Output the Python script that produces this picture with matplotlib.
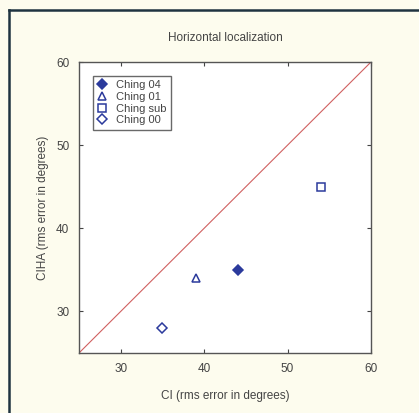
import matplotlib
matplotlib.use('Agg')
import matplotlib.pyplot as plt
from matplotlib.lines import Line2D

plt.rcParams['font.family'] = ['Liberation Sans', 'DejaVu Sans']

# data
labels = ['Ching 04', 'Ching 01', 'Ching sub', 'Ching 00']
ci = [44, 39, 54, 35]
ciha = [35, 34, 45, 28]
markers = ['D', '^', 's', 'D']
filled = [True, False, False, False]
diag = [25, 60]
ticks = [30, 40, 50, 60]

blue = '#2b3a9c'
bg = '#fdfcee'
txt = '#444444'

fig = plt.figure(figsize=(4.19, 4.13), dpi=100, facecolor=bg)
ax = fig.add_axes([79 / 419, 1 - 353 / 413, 292 / 419, 291 / 413])
ax.set_facecolor('white')

ax.plot(diag, diag, color='#d06060', lw=0.8, zorder=1)
for x, y, lab, m, f in zip(ci, ciha, labels, markers, filled):
    ax.plot([x], [y], linestyle='none', marker=m, ms=6 if m != 'D' else 5,
            mfc=blue if f else 'white', mec=blue, mew=1.1, label=lab, zorder=3)

ax.set_xlim(25, 60)
ax.set_ylim(25, 60)
ax.set_xticks(ticks)
ax.set_yticks(ticks)
ax.tick_params(direction='in', top=True, right=True, length=3, width=0.8,
               labelsize=8.5, colors=txt, pad=7)
for s in ax.spines.values():
    s.set_color('#555555')
    s.set_linewidth(1.0)

ax.set_title('Horizontal localization', fontsize=8.5, color=txt, pad=15)
ax.set_xlabel('CI (rms error in degrees)', fontsize=8.5, color=txt, labelpad=11)
ax.set_ylabel('CIHA (rms error in degrees)', fontsize=8.5, color=txt, labelpad=5)

leg = ax.legend(loc='upper left', bbox_to_anchor=(0.04, 0.96), fontsize=8,
                frameon=True, fancybox=False, edgecolor='#444444',
                handlelength=0.9, handletextpad=0.8, labelspacing=0.15,
                borderpad=0.4, borderaxespad=0.2, markerscale=0.95)
leg.get_frame().set_linewidth(1.0)
for t in leg.get_texts():
    t.set_color(txt)

# dark frame round the panel (left and top edges visible)
fig.add_artist(Line2D([9 / 419, 9 / 419], [0, 1 - 10 / 413],
                      transform=fig.transFigure, color='#1f3340', lw=1.8))
fig.add_artist(Line2D([9 / 419, 1], [1 - 10 / 413, 1 - 10 / 413],
                      transform=fig.transFigure, color='#1f3340', lw=1.8))

fig.savefig('out.png', dpi=100, facecolor=bg)
